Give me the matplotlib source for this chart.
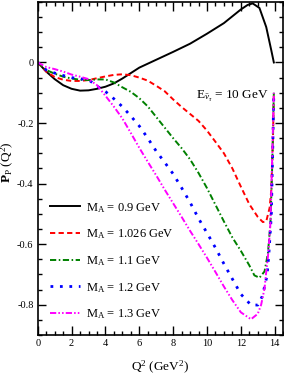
import matplotlib
matplotlib.use("Agg")
import matplotlib.pyplot as plt
from matplotlib.ticker import MultipleLocator

plt.rcParams['font.family'] = ['Liberation Serif', 'DejaVu Serif']
plt.rcParams['mathtext.fontset'] = 'custom'
plt.rcParams['mathtext.rm'] = 'Liberation Serif'
plt.rcParams['mathtext.it'] = 'Liberation Serif:italic'
plt.rcParams['mathtext.bf'] = 'Liberation Serif:bold'

# ---- data ----
q_09 = [0, 0.5, 1.0, 1.5, 2.0, 2.5, 3.0, 3.5, 4.0, 4.5, 5.0, 5.5, 6.0, 6.5, 7.0, 8.0, 9.0, 10.0, 11.0, 12.0, 12.4, 12.7, 13.1, 13.5, 13.8, 13.95]
p_09 = [0, -0.03, -0.055, -0.075, -0.087, -0.093, -0.092, -0.087, -0.08, -0.069, -0.053, -0.035, -0.017, -0.004, 0.009, 0.035, 0.062, 0.095, 0.13, 0.175, 0.19, 0.195, 0.18, 0.117, 0.04, 0.0]

q_1026 = [0, 0.5, 1.0, 1.5, 2.0, 2.5, 3.0, 3.5, 4.0, 4.5, 5.0, 5.5, 6.0, 6.5, 7.0, 7.5, 8.0, 8.5, 9.0, 9.5, 10.0, 10.5, 11.0, 11.5, 12.0, 12.5, 13.0, 13.3, 13.5, 13.7, 13.8, 13.9, 13.95]
p_1026 = [0, -0.03, -0.048, -0.057, -0.061, -0.061, -0.058, -0.052, -0.046, -0.041, -0.039, -0.042, -0.05, -0.06, -0.077, -0.095, -0.122, -0.147, -0.17, -0.193, -0.225, -0.262, -0.3, -0.35, -0.41, -0.468, -0.51, -0.527, -0.525, -0.48, -0.42, -0.25, -0.1]

q_11 = [0, 0.5, 1.0, 1.5, 2.0, 2.5, 3.0, 3.5, 4.0, 4.5, 5.0, 5.5, 6.0, 6.5, 7.0, 7.5, 8.0, 8.5, 9.0, 9.5, 10.0, 10.5, 11.0, 11.5, 12.0, 12.5, 12.8, 13.1, 13.4, 13.6, 13.75, 13.85, 13.95]
p_11 = [0, -0.025, -0.037, -0.047, -0.053, -0.057, -0.058, -0.056, -0.056, -0.066, -0.082, -0.097, -0.118, -0.145, -0.18, -0.215, -0.25, -0.283, -0.32, -0.365, -0.415, -0.47, -0.525, -0.578, -0.622, -0.67, -0.703, -0.711, -0.69, -0.63, -0.53, -0.35, -0.1]

q_12 = [0, 0.5, 1.0, 1.5, 2.0, 2.5, 3.0, 3.5, 4.0, 4.5, 5.0, 5.5, 6.0, 6.5, 7.0, 7.5, 8.0, 8.5, 9.0, 9.5, 10.0, 10.5, 11.0, 11.5, 12.0, 12.6, 13.0, 13.25, 13.4, 13.55, 13.65, 13.8, 13.88, 13.95]
p_12 = [0, -0.025, -0.035, -0.043, -0.05, -0.054, -0.057, -0.078, -0.096, -0.12, -0.146, -0.177, -0.21, -0.25, -0.293, -0.33, -0.368, -0.414, -0.462, -0.515, -0.563, -0.612, -0.665, -0.715, -0.765, -0.801, -0.801, -0.774, -0.741, -0.703, -0.637, -0.506, -0.3, -0.1]

q_13 = [0, 0.5, 1.0, 1.5, 2.0, 2.5, 3.0, 3.5, 4.0, 4.5, 5.0, 5.5, 6.0, 6.5, 7.0, 7.5, 8.0, 8.5, 9.0, 9.5, 10.0, 10.5, 11.0, 11.5, 12.0, 12.6, 13.0, 13.2, 13.4, 13.5, 13.63, 13.75, 13.85, 13.95]
p_13 = [0, -0.015, -0.022, -0.03, -0.04, -0.047, -0.055, -0.075, -0.11, -0.146, -0.185, -0.233, -0.282, -0.328, -0.373, -0.42, -0.465, -0.51, -0.556, -0.6, -0.645, -0.692, -0.74, -0.785, -0.825, -0.848, -0.83, -0.8, -0.746, -0.692, -0.626, -0.528, -0.32, -0.1]

labels = [r"M$_{\rm A}$ = 0.9 GeV", r"M$_{\rm A}$ = 1.026 GeV", r"M$_{\rm A}$ = 1.1 GeV",
          r"M$_{\rm A}$ = 1.2 GeV", r"M$_{\rm A}$ = 1.3 GeV"]
x_ticks = [0, 2, 4, 6, 8, 10, 12, 14]
y_ticks = [0, -0.2, -0.4, -0.6, -0.8]
y_ticklabels = ["0", "-0.2", "-0.4", "-0.6", "-0.8"]

fig = plt.figure(figsize=(2.84, 3.82), dpi=100)
ax = fig.add_axes([0.133, 0.123, 0.864, 0.872])

lw = 1.4
ax.plot(q_09, p_09, color='black', lw=lw, ls='-', label=labels[0])
ax.plot(q_1026, p_1026, color='#ff0000', lw=lw, ls=(0, (2.7, 1.7)), label=labels[1])
ax.plot(q_11, p_11, color='#008000', lw=lw, ls=(0, (3.2, 1.3, 0.8, 1.3)), label=labels[2])
ax.plot(q_12, p_12, color='#0000ff', lw=2.0, ls=(0, (1, 2.4)), label=labels[3])
ax.plot(q_13, p_13, color='#ff00ff', lw=lw, ls=(0, (3.2, 1.1, 0.8, 1.1, 0.8, 1.1)), label=labels[4])

ax.set_xlim(0, 14.5)
ax.set_ylim(-0.9, 0.2)
ax.set_xticks(x_ticks)
ax.set_yticks(y_ticks)
ax.set_yticklabels(y_ticklabels)
ax.xaxis.set_minor_locator(MultipleLocator(0.5))
ax.yaxis.set_minor_locator(MultipleLocator(0.05))
ax.tick_params(axis='both', which='both', direction='in', top=True, right=True,
               labelsize=7.5, width=1.0, pad=3)
ax.tick_params(axis='x', which='major', length=6.5)
ax.tick_params(axis='x', which='minor', length=3)
ax.tick_params(axis='y', which='major', length=5.5)
ax.tick_params(axis='y', which='minor', length=2.8)
for s in ax.spines.values():
    s.set_linewidth(1.2)

ax.set_xlabel(r"Q$^2$ (GeV$^2$)", fontsize=9.5, labelpad=8)
ax.set_ylabel(r"$\mathbf{P}_{\rm P}$ (Q$^2$)", fontsize=9.5)
ax.yaxis.set_label_coords(-0.088, 0.52)

ax.text(13.65, -0.122, r"E$_{\bar{\nu}_\tau}$ = 10 GeV", fontsize=9.5, ha='right', va='baseline')

leg = ax.legend(loc='upper left', bbox_to_anchor=(0.05, 0.403), frameon=False, fontsize=9,
                handlelength=2.4, handletextpad=0.5, labelspacing=1.03, borderpad=0, borderaxespad=0)

fig.savefig("out.png", dpi=100)
